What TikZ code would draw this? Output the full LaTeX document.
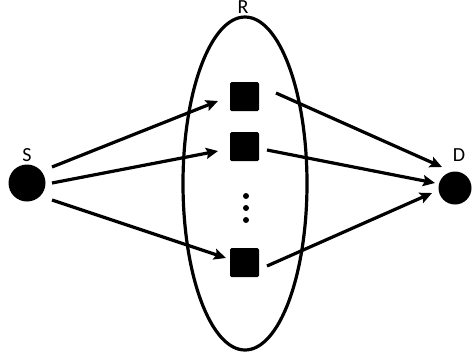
\documentclass[tikz,border=0pt]{standalone}
\usepackage{fontspec}
\setmainfont{Carlito}
\usetikzlibrary{arrows.meta,shapes.geometric}
\begin{document}
\begin{tikzpicture}[x=1pt,y=-1pt,
  endpt/.style={circle,fill=black,inner sep=0pt},
  relay/.style={rectangle,fill=black,rounded corners=1.5pt,minimum size=29pt,inner sep=0pt},
  lbl/.style={font=\fontsize{20}{20}\selectfont,inner sep=0pt},
  arr/.style={line width=3.2pt,-{Stealth[length=12pt,width=11pt,inset=2pt]}},
  dotn/.style={circle,fill=black,inner sep=0pt,minimum size=6pt}]
\useasboundingbox (0,0) rectangle (473,360);
\node[draw,ellipse,line width=3.2pt,minimum width=124pt,minimum height=333pt,inner sep=0pt] (R) at (245,183.5) {};
\node[lbl] (Rl) at (243,7.5) {R};
\node[endpt,minimum size=37pt] (S) at (27,183) {};
\node[endpt,minimum size=33pt] (D) at (455,188) {};
\node[lbl] (Sl) at (27,155) {S};
\node[lbl] (Dl) at (459,155) {D};
\node[relay] (q1) at (244.5,96.5) {};
\node[relay] (q2) at (244.5,146.5) {};
\node[relay] (q3) at (244.5,262.5) {};
\node[dotn] (d1) at (246,196) {};
\node[dotn] (d2) at (246,208) {};
\node[dotn] (d3) at (246,220) {};
\draw[arr] ([shift={(25,-16)}]S.center) -- ([shift={(-26.5,4.5)}]q1.center);
\draw[arr] ([shift={(25,0)}]S.center) -- ([shift={(-26.5,4.5)}]q2.center);
\draw[arr] ([shift={(25,17)}]S.center) -- ([shift={(-18.5,-4.5)}]q3.center);
\draw[arr] ([shift={(31.5,-3.5)}]q1.center) -- ([shift={(-13,-21)}]D.center);
\draw[arr] ([shift={(22.5,3.5)}]q2.center) -- ([shift={(-20,-5)}]D.center);
\draw[arr] ([shift={(22.5,3.5)}]q3.center) -- ([shift={(-23,5)}]D.center);
\end{tikzpicture}
\end{document}
